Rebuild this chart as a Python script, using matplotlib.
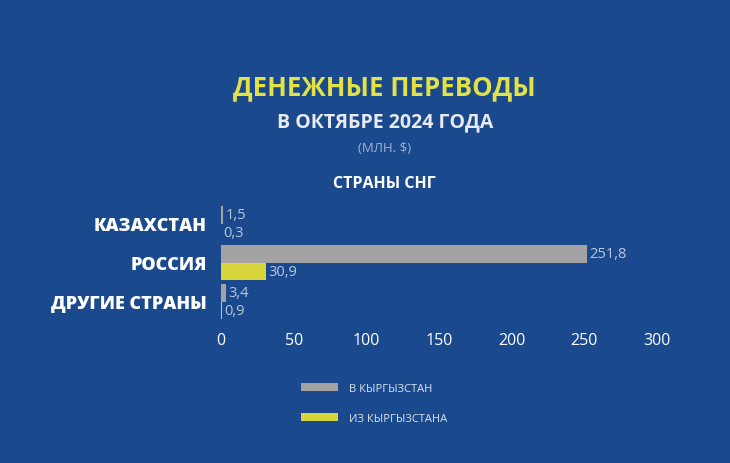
import matplotlib
matplotlib.use("Agg")
import numpy as np
import matplotlib.pyplot as plt

countries = ["КАЗАХСТАН", "РОССИЯ", "ДРУГИЕ СТРАНЫ"]
to_kg = [1.5, 251.8, 3.4]
from_kg = [0.3, 30.9, 0.9]
series_names = ["В КЫРГЫЗСТАН", "ИЗ КЫРГЫЗСТАНА"]
xticks = [0, 50, 100, 150, 200, 250, 300]

bg = "#1a4a8d"
gray = "#a3a3a3"
yellow = "#d8d63a"
label_col = "#b9c7de"

plt.rcParams["font.family"] = ["Open Sans", "DejaVu Sans"]

fig = plt.figure(figsize=(7.3, 4.64), dpi=100, facecolor=bg)
ax = fig.add_axes([0.3027, 0.306, 0.5973, 0.252])
ax.set_facecolor(bg)

y = np.arange(len(countries))
h = 0.45
b1 = ax.barh(y - h / 2, to_kg, height=h, color=gray, label=series_names[0])
b2 = ax.barh(y + h / 2, from_kg, height=h, color=yellow, label=series_names[1])

for bars, vals in [(b1, to_kg), (b2, from_kg)]:
    for bar, v in zip(bars, vals):
        ax.text(bar.get_width() + 1.5, bar.get_y() + bar.get_height() / 2,
                f"{v:.1f}".replace(".", ","), va="center", ha="left",
                color=label_col, fontsize=10.5)

ax.set_xlim(0, 300)
ax.set_ylim(2.5, -0.5)
ax.set_xticks(xticks)
ax.set_xticklabels([str(t) for t in xticks], color="white", fontsize=11.5)
ax.set_yticks(y)
ax.set_yticklabels(countries, color="white", fontsize=13, fontweight="heavy")
ax.tick_params(axis="both", length=0)
ax.tick_params(axis="x", pad=8)
ax.tick_params(axis="y", pad=10)
for s in ax.spines.values():
    s.set_visible(False)

fig.text(0.527, 0.81, "ДЕНЕЖНЫЕ ПЕРЕВОДЫ", color="#e2e146", fontsize=18.5,
         fontweight="bold", ha="center", va="center")
fig.text(0.527, 0.737, "В ОКТЯБРЕ 2024 ГОДА", color="#e8eaf0", fontsize=14,
         fontweight="bold", ha="center", va="center")
fig.text(0.527, 0.681, "(МЛН. $)", color="#9fb1cf", fontsize=9.5,
         ha="center", va="center")
fig.text(0.527, 0.603, "СТРАНЫ СНГ", color="white", fontsize=11.5,
         fontweight="bold", ha="center", va="center")

leg = fig.legend(handles=[b1, b2], loc="center left",
                 bbox_to_anchor=(0.398, 0.128), frameon=False,
                 handlelength=3.4, handleheight=0.7, labelspacing=1.7,
                 fontsize=8, labelcolor="#dde3ee", handletextpad=1.0)

fig.savefig("out.png", dpi=100, facecolor=bg)
